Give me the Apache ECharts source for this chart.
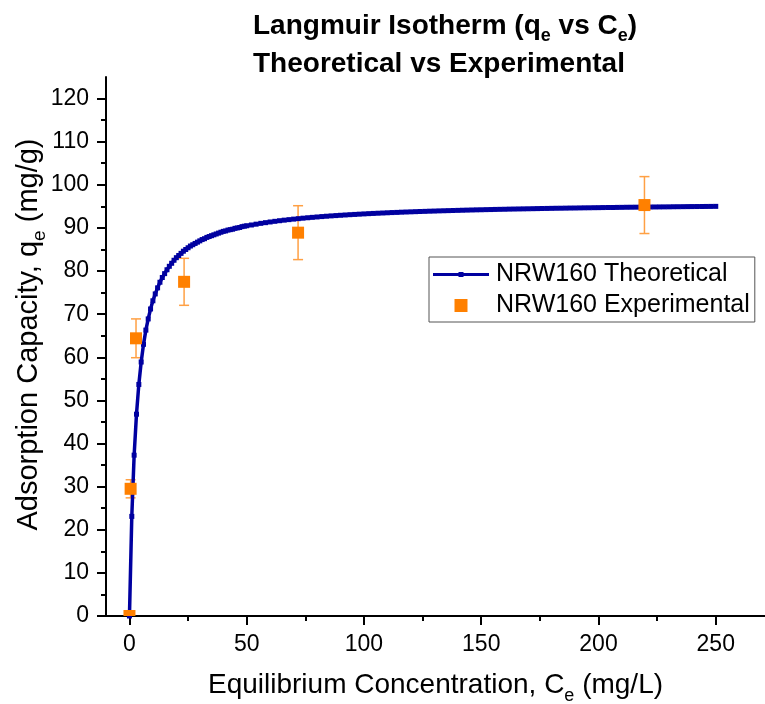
<!DOCTYPE html>
<html><head><meta charset="utf-8">
<script src="https://cdn.jsdelivr.net/npm/echarts@6/dist/echarts.min.js"></script>
<style>html,body{margin:0;padding:0;background:#fff}#c{width:765px;height:704px}</style>
</head><body><div id="c"></div>
<script>
// Theoretical Langmuir curve
const thC = [0,1,2,3,4,5,6,7,8,9,10,11,12,13,14,15,16,17,18,19,20,21,22,23,24,25,26,27,28,29,30,31,32,33,34,35,36,37,38,39,40,41,42,43,44,45,46,47,48,49,50,
52,54,56,58,60,62,64,66,68,70,72,74,76,78,80,82,84,86,88,90,92,94,96,98,100,
102,104,106,108,110,112,114,116,118,120,122,124,126,128,130,132,134,136,138,140,142,144,146,148,150,152,154,156,158,160,162,164,166,168,170,172,174,176,178,180,182,184,186,188,190,192,194,196,198,200,202,204,206,208,210,212,214,216,218,220,222,224,226,228,230,232,234,236,238,240,242,244,246,248,250];
const thQ = [0,23.1,37.3,46.8,53.7,58.9,63.0,66.3,68.9,71.2,73.1,74.7,76.1,77.4,78.5,79.4,80.3,81.1,81.8,82.5,83.1,83.6,84.1,84.6,85.0,85.4,85.8,86.1,86.4,86.7,87.0,87.3,87.5,87.8,88.0,88.2,88.4,88.6,88.8,89.0,89.2,89.3,89.5,89.6,89.7,89.9,90.0,90.1,90.3,90.4,90.5,
90.68,90.87,91.06,91.22,91.38,91.53,91.67,91.80,91.92,92.04,92.15,92.26,92.36,92.45,92.54,92.63,92.71,92.79,92.86,92.93,93.00,93.07,93.13,93.19,93.25,
93.31,93.36,93.41,93.46,93.51,93.56,93.60,93.65,93.69,93.73,93.77,93.81,93.84,93.88,93.91,93.95,93.98,94.01,94.04,94.07,94.10,94.13,94.16,94.19,94.21,94.24,94.26,94.29,94.31,94.33,94.36,94.38,94.40,94.42,94.44,94.46,94.48,94.50,94.52,94.54,94.56,94.57,94.59,94.61,94.62,94.64,94.66,94.67,94.69,94.70,94.72,94.73,94.74,94.76,94.77,94.79,94.80,94.81,94.82,94.84,94.85,94.86,94.87,94.88,94.89,94.91,94.92,94.93,94.94,94.95,94.96,94.97,94.98,94.99,95.00];
// Experimental points
const expC = [0, 0.5, 2.8, 23.3, 71.9, 219.6];
const expQ = [0, 29.5, 64.4, 77.5, 88.9, 95.3];
const expErr = [0, 2.1, 4.5, 5.45, 6.25, 6.6];
// Axis ticks
const xTicks = [0, 50, 100, 150, 200, 250];
const xMinor = [25, 75, 125, 175, 225];
const yTicks = [0, 10, 20, 30, 40, 50, 60, 70, 80, 90, 100, 110, 120];
const yMinor = [5, 15, 25, 35, 45, 55, 65, 75, 85, 95, 105, 115];
const seriesNames = ['NRW160 Theoretical', 'NRW160 Experimental'];

const FF = '"Liberation Sans", Arial, sans-serif';
const chart = echarts.init(document.getElementById('c'));
const thData = thC.map((c, i) => [c, thQ[i]]);
const expData = expC.map((c, i) => [c, expQ[i]]);
const errData = expC.map((c, i) => [c, expQ[i] - expErr[i], expQ[i] + expErr[i]]);

const axisCommon = {
  type: 'value', splitLine: { show: false },
  axisLine: { show: true, onZero: false, lineStyle: { color: '#000', width: 2 } }
};
const nameRich = (fs) => ({
  a: { fontSize: fs, fontFamily: FF, color: '#000' },
  s: { fontSize: Math.round(fs * 0.65), fontFamily: FF, color: '#000', verticalAlign: 'bottom', padding: [0, 0, -6, 0] }
});

chart.setOption({
  animation: false,
  backgroundColor: '#fff',
  title: {
    text: '{t|Langmuir Isotherm (q}{s|e}{t| vs C}{s|e}{t|)}\n{t|Theoretical vs Experimental}',
    left: 253, top: 7, padding: 0,
    textStyle: {
      rich: {
        t: { fontSize: 28, fontWeight: 'bold', fontFamily: FF, color: '#000', lineHeight: 38 },
        s: { fontSize: 18, fontWeight: 'bold', fontFamily: FF, color: '#000', verticalAlign: 'bottom', lineHeight: 30 }
      }
    }
  },
  legend: {
    data: [
      { name: seriesNames[0], icon: 'path://M0,5H56V8H0Z M25.5,4H30.5V9H25.5Z' },
      { name: seriesNames[1], icon: 'path://M0,0L10,0L10,10L0,10Z' }
    ],
    left: 429, top: 257, orient: 'vertical', symbolKeepAspect: true,
    padding: [5, 5, 4, 4], itemGap: 6, itemWidth: 56, itemHeight: 13,
    borderColor: '#555', borderWidth: 1, backgroundColor: '#fff',
    textStyle: { fontSize: 25, fontFamily: FF, color: '#000', padding: [0, 0, 0, 2] }
  },
  grid: { left: 106, top: 77, width: 659, height: 539, outerBoundsMode: 'none', containLabel: false },
  xAxis: [
    Object.assign({}, axisCommon, {
      min: -10, max: 271, position: 'bottom',
      name: '{a|Equilibrium Concentration, C}{s|e}{a| (mg/L)}',
      nameLocation: 'middle', nameGap: 55, nameMoveOverlap: false,
      nameTextStyle: { rich: nameRich(28) },
      axisTick: { show: true, length: 9, lineStyle: { color: '#000', width: 2 }, customValues: xTicks },
      axisLabel: { show: true, fontSize: 23, fontFamily: FF, color: '#000', margin: 17, customValues: xTicks }
    }),
    {
      type: 'value', min: -10, max: 271, position: 'bottom', splitLine: { show: false },
      axisLine: { show: false, onZero: false },
      axisLabel: { show: false },
      axisTick: { show: true, length: 5, lineStyle: { color: '#000', width: 2 }, customValues: xMinor }
    }
  ],
  yAxis: [
    Object.assign({}, axisCommon, {
      min: 0, max: 125, position: 'left',
      name: '{a|Adsorption Capacity, q}{s|e}{a| (mg/g)}',
      nameLocation: 'middle', nameGap: 63, nameMoveOverlap: false,
      nameTextStyle: { padding: [0, 0, 0, 24], rich: nameRich(29) },
      axisTick: { show: true, length: 9, lineStyle: { color: '#000', width: 2 }, customValues: yTicks },
      axisLabel: { show: true, fontSize: 23, fontFamily: FF, color: '#000', margin: 17, customValues: yTicks }
    }),
    {
      type: 'value', min: 0, max: 125, position: 'left', splitLine: { show: false },
      axisLine: { show: false, onZero: false },
      axisLabel: { show: false },
      axisTick: { show: true, length: 5, lineStyle: { color: '#000', width: 2 }, customValues: yMinor }
    }
  ],
  series: [
    {
      name: seriesNames[0], type: 'line', xAxisIndex: 0, yAxisIndex: 0,
      data: thData, showSymbol: true, showAllSymbol: true, symbol: 'rect', symbolSize: 5,
      lineStyle: { color: '#0000a0', width: 3.5 }, itemStyle: { color: '#0000a0' },
      z: 3, silent: true
    },
    {
      name: 'errors', type: 'custom', xAxisIndex: 0, yAxisIndex: 0, data: errData, z: 2, clip: true,
      renderItem: function (params, api) {
        const x = api.value(0);
        const pLo = api.coord([x, api.value(1)]);
        const pHi = api.coord([x, api.value(2)]);
        if (Math.abs(pLo[1] - pHi[1]) < 0.5) return null;
        const st = { stroke: '#ffa044', lineWidth: 1.5 };
        const w = 5;
        return { type: 'group', children: [
          { type: 'line', shape: { x1: pLo[0], y1: pLo[1], x2: pHi[0], y2: pHi[1] }, style: st },
          { type: 'line', shape: { x1: pHi[0] - w, y1: pHi[1], x2: pHi[0] + w, y2: pHi[1] }, style: st },
          { type: 'line', shape: { x1: pLo[0] - w, y1: pLo[1], x2: pLo[0] + w, y2: pLo[1] }, style: st }
        ] };
      }
    },
    {
      name: seriesNames[1], type: 'custom', xAxisIndex: 0, yAxisIndex: 0,
      data: expData, clip: true, z: 4, itemStyle: { color: '#ff8000' },
      renderItem: function (params, api) {
        const p = api.coord([api.value(0), api.value(1)]);
        const s = 12;
        return { type: 'rect', shape: { x: p[0] - s / 2, y: p[1] - s / 2, width: s, height: s }, style: { fill: '#ff8000' } };
      }
    }
  ]
});
</script></body></html>
